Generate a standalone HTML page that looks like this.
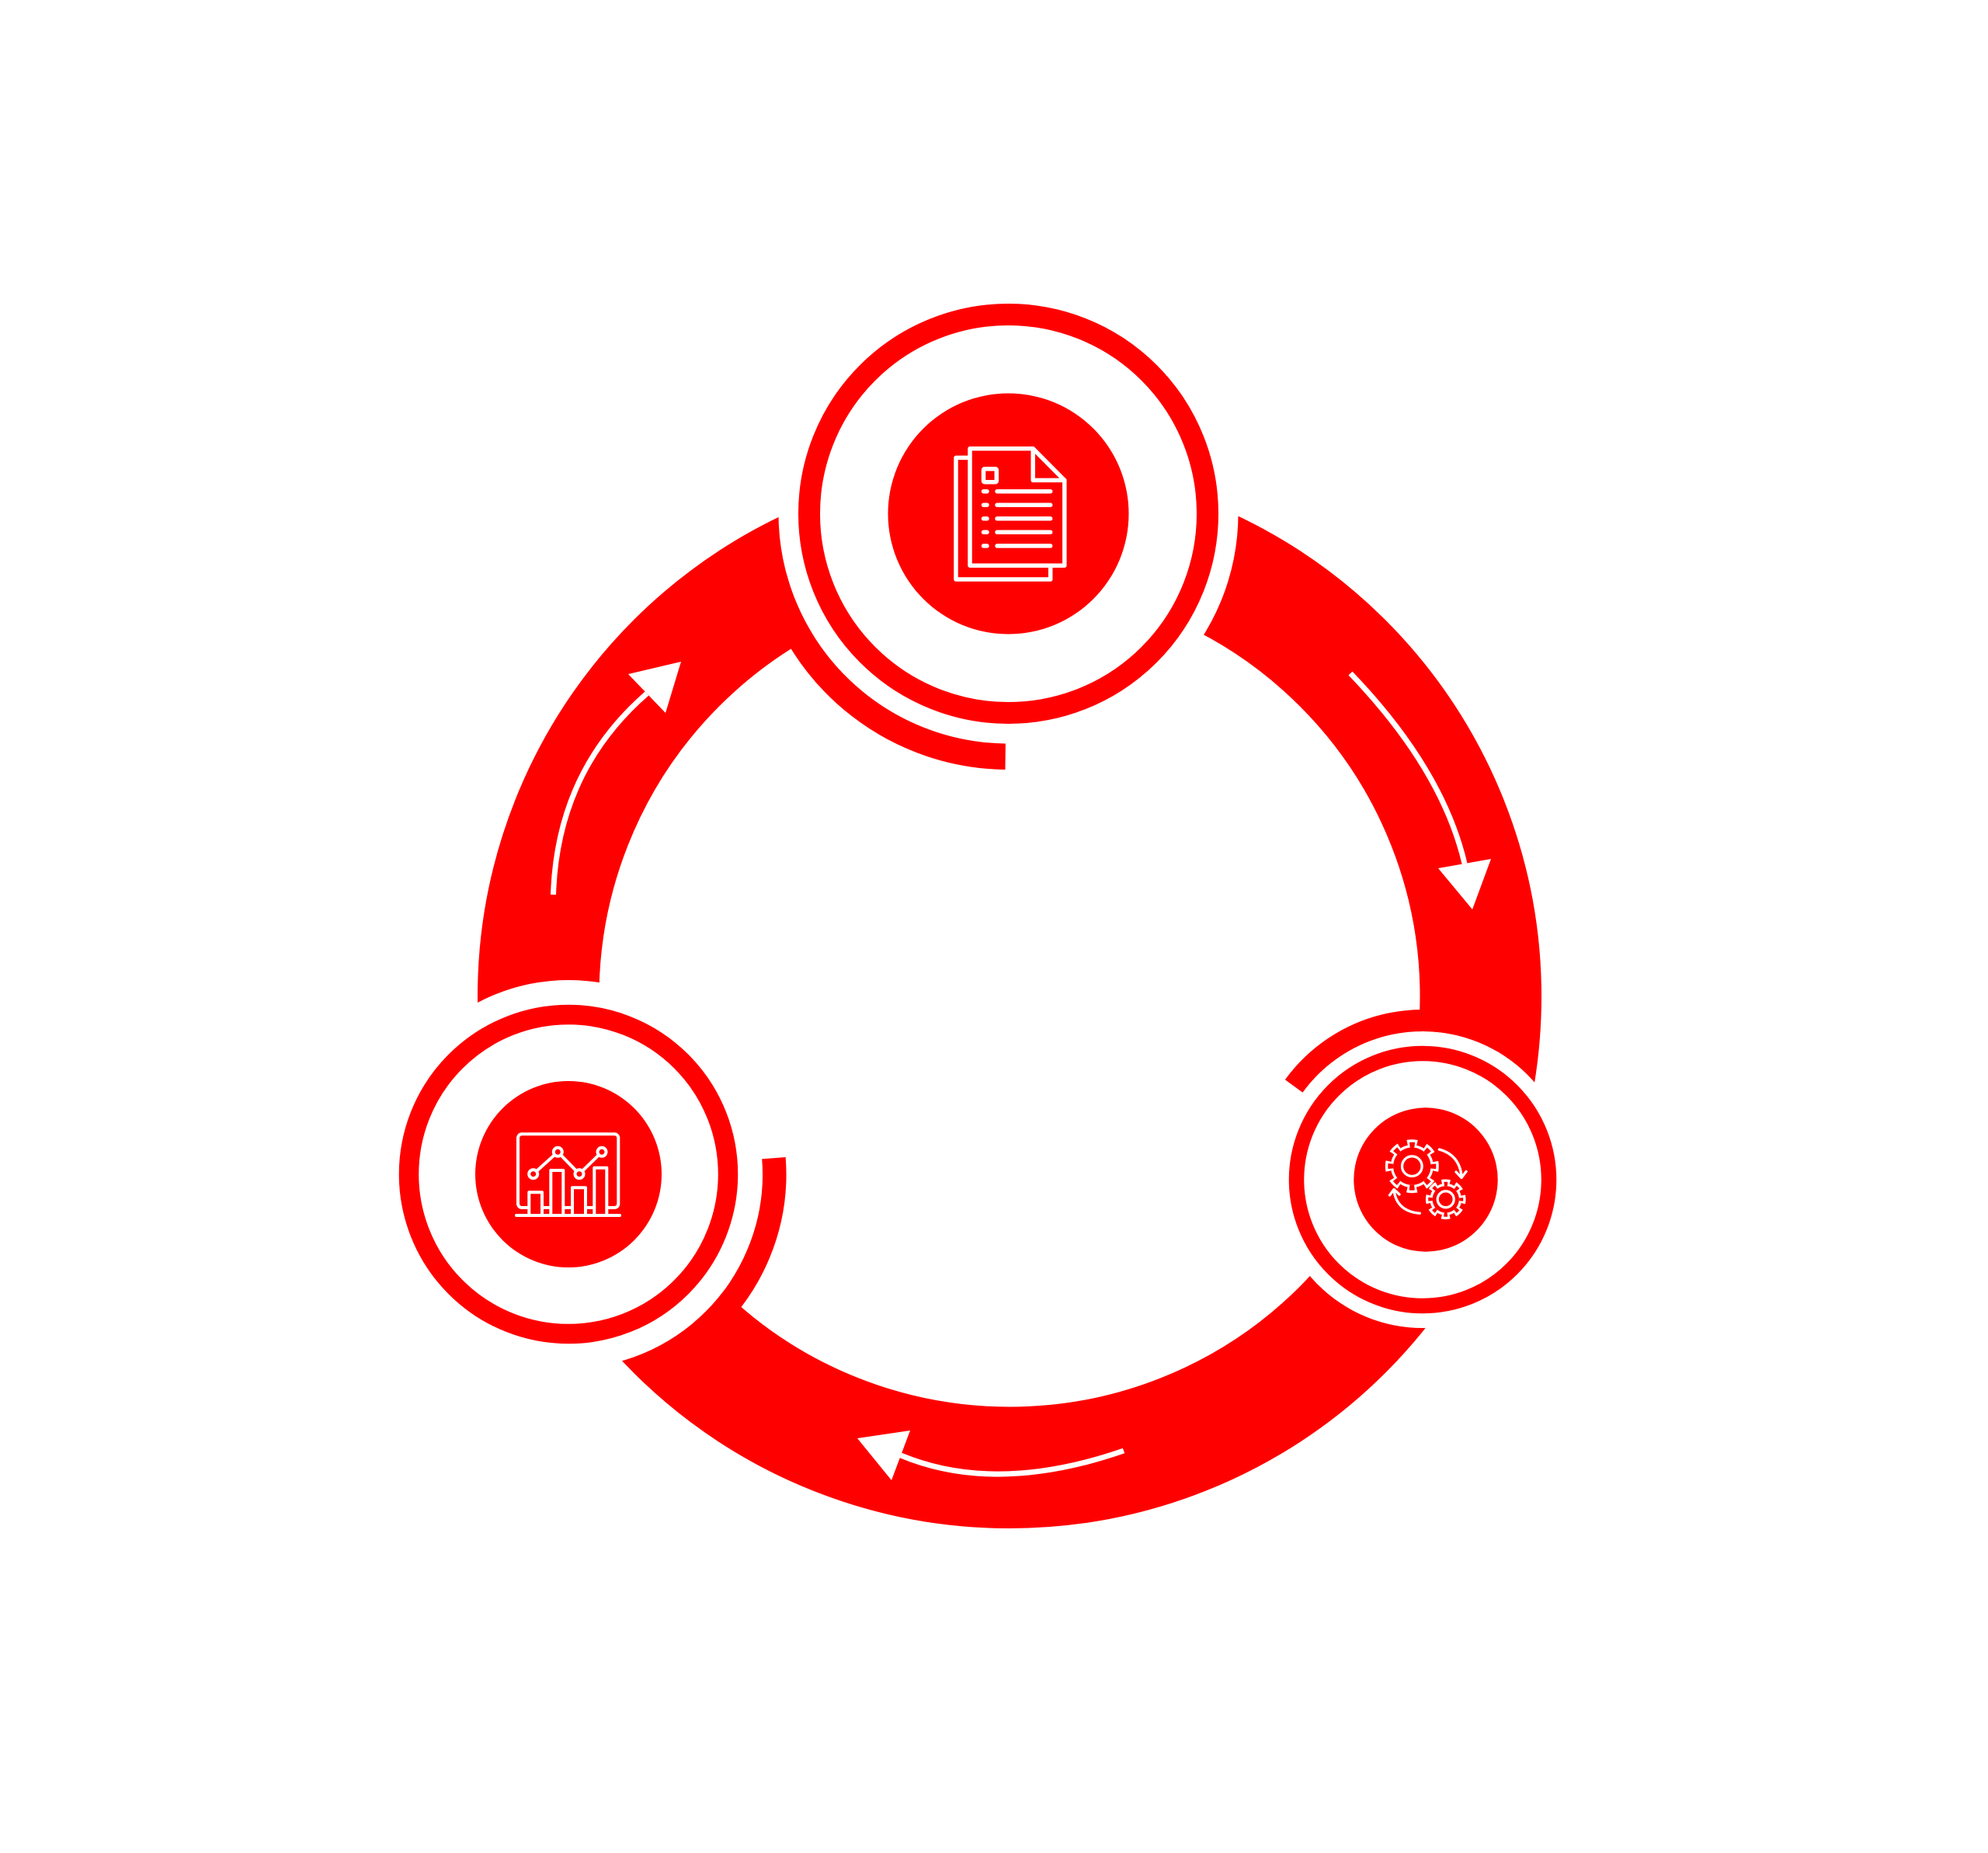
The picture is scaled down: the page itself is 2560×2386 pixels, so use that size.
<!DOCTYPE html>
<html>
<head>
<meta charset="utf-8">
<style>
html,body{margin:0;padding:0;background:#fff;}
svg{display:block;}
</style>
</head>
<body>
<svg width="2560" height="2386" viewBox="0 0 2560 2386" xmlns="http://www.w3.org/2000/svg">
<rect width="2560" height="2386" fill="#fff"/>

<!-- big ring band -->
<circle cx="1300" cy="1283" r="606.75" fill="none" stroke="#ff0000" stroke-width="156.5"/>

<!-- white gap disks around nodes -->
<circle cx="1298.5" cy="661.5" r="296" fill="#fff"/>
<circle cx="1832" cy="1519" r="191" fill="#fff"/>
<circle cx="732" cy="1512" r="250" fill="#fff"/>

<!-- tails -->
<path d="M996.4,742.45 A312.75,312.75 0 0 0 1294.68,974.23" fill="none" stroke="#ff0000" stroke-width="33.5"/>
<path d="M1934.5,1341.46 A205,205 0 0 0 1666.15,1398.5" fill="none" stroke="#ff0000" stroke-width="28"/>
<path d="M902.5,1715.19 A265.25,265.25 0 0 0 996.43,1491.19" fill="none" stroke="#ff0000" stroke-width="30.5"/>

<!-- white arrows on band -->
<path d="M1739,867 Q1857.5,990.5 1886,1112" fill="none" stroke="#fff" stroke-width="7"/>
<polygon points="1852,1118 1920,1106 1896,1171" fill="#fff"/>

<path d="M712.5,1152 Q717.5,993.5 833,893" fill="none" stroke="#fff" stroke-width="7"/>
<polygon points="809,868 857,918 877,852" fill="#fff"/>

<path d="M1447,1868 Q1282.5,1925 1160,1874" fill="none" stroke="#fff" stroke-width="7"/>
<polygon points="1104,1852 1172,1842 1148,1906" fill="#fff"/>

<!-- top node -->
<circle cx="1298.5" cy="661.5" r="256.5" fill="#fff" stroke="#ff0000" stroke-width="28"/>
<circle cx="1298.5" cy="661.5" r="155" fill="#ff0000"/>
<g fill="none" stroke="#fff" stroke-width="5.5" stroke-linejoin="round" stroke-linecap="round">
  <path d="M1249,577.6 H1330.2 L1370.8,618.4 V728.2 H1249 Z"/>
  <path d="M1330.2,577.6 V618.4 H1370.8"/>
  <path d="M1249,589.4 H1231 V746 H1352.7 V728.2"/>
  <rect x="1266.5" y="603.7" width="16.8" height="17.1" rx="1.5"/>
  <path d="M1266.5,632.7 H1271 M1284,632.7 H1352.7"/>
  <path d="M1266.5,650.2 H1271 M1284,650.2 H1352.7"/>
  <path d="M1266.5,667.8 H1271 M1284,667.8 H1352.7"/>
  <path d="M1266.5,685.3 H1271 M1284,685.3 H1352.7"/>
  <path d="M1266.5,702.9 H1271 M1284,702.9 H1352.7"/>
</g>

<!-- left node -->
<circle cx="732" cy="1512" r="205.5" fill="#fff" stroke="#ff0000" stroke-width="25.5"/>
<circle cx="732" cy="1512" r="120" fill="#ff0000"/>
<g fill="none" stroke="#fff" stroke-width="4" stroke-linejoin="round" stroke-linecap="round">
  <rect x="667" y="1460.3" width="129.3" height="94.7" rx="5"/>
  <rect x="681.3" y="1535.3" width="16.7" height="29.7" fill="#ff0000"/>
  <rect x="709.3" y="1507" width="16" height="58" fill="#ff0000"/>
  <rect x="737" y="1529.3" width="17" height="35.7" fill="#ff0000"/>
  <rect x="765.3" y="1503.7" width="16" height="61.3" fill="#ff0000"/>
  <path d="M665,1565 H798"/>
  <polyline points="686.7,1511.7 718.3,1483.3 746,1511.7 775,1483.3"/>
  <circle cx="686.7" cy="1511.7" r="5.5" fill="#ff0000"/>
  <circle cx="718.3" cy="1483.3" r="5.5" fill="#ff0000"/>
  <circle cx="746" cy="1511.7" r="5.5" fill="#ff0000"/>
  <circle cx="775" cy="1483.3" r="5.5" fill="#ff0000"/>
</g>

<!-- right node -->
<circle cx="1832" cy="1519" r="162.5" fill="#fff" stroke="#ff0000" stroke-width="19.5"/>
<circle cx="1836" cy="1519" r="92.7" fill="#ff0000"/>
<!-- big gear -->
<circle cx="1818.3" cy="1501.7" r="27.5" fill="#fff"/>
<circle cx="1818.3" cy="1501.7" r="31" fill="none" stroke="#fff" stroke-width="7" stroke-dasharray="13 11.35" stroke-dashoffset="6.5"/>
<circle cx="1818.3" cy="1501.7" r="24.2" fill="#ff0000"/>
<circle cx="1818.3" cy="1501.7" r="27.6" fill="none" stroke="#ff0000" stroke-width="6.8" stroke-dasharray="6.4 15.28" stroke-dashoffset="3.2"/>
<circle cx="1818.3" cy="1501.7" r="12.8" fill="none" stroke="#fff" stroke-width="3.3"/>
<!-- small gear -->
<circle cx="1861.7" cy="1544.3" r="20.5" fill="#fff"/>
<circle cx="1861.7" cy="1544.3" r="23.15" fill="none" stroke="#fff" stroke-width="5.3" stroke-dasharray="11 7.18" stroke-dashoffset="5.5"/>
<circle cx="1861.7" cy="1544.3" r="17.2" fill="#ff0000"/>
<circle cx="1861.7" cy="1544.3" r="19.85" fill="none" stroke="#ff0000" stroke-width="5.3" stroke-dasharray="4.4 11.19" stroke-dashoffset="2.2"/>
<circle cx="1861.7" cy="1544.3" r="10.5" fill="none" stroke="#fff" stroke-width="3.3"/>
<!-- gear arrows -->
<g fill="none" stroke="#fff" stroke-width="3.3" stroke-linecap="round" stroke-linejoin="round">
  <path d="M1853.3,1480 Q1879,1487 1882,1514"/>
  <path d="M1875,1509 L1882,1516.5 L1888,1508.5"/>
  <path d="M1828.3,1562.3 Q1799,1560 1795,1533"/>
  <path d="M1789.5,1539 L1795,1531.5 L1802,1538"/>
</g>

</svg>
</body>
</html>
